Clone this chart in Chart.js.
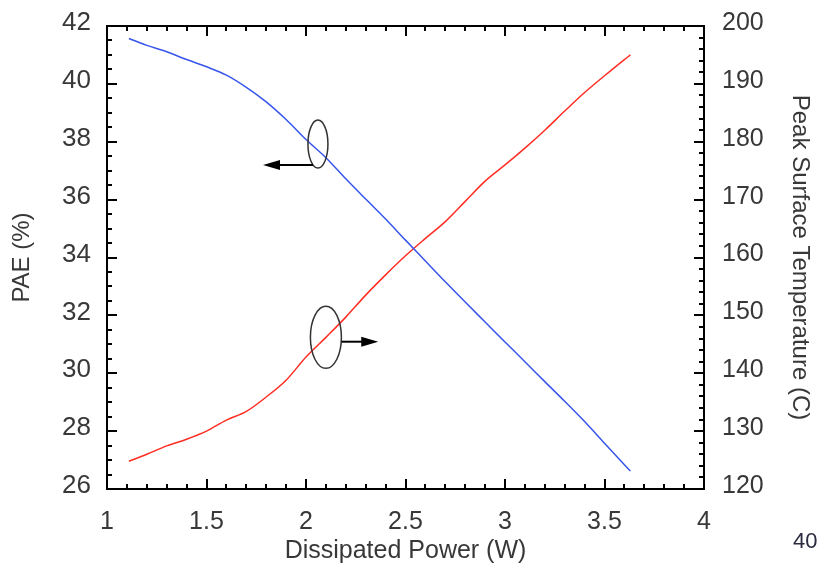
<!DOCTYPE html>
<html>
<head>
<meta charset="utf-8">
<title>PAE and peak surface temperature vs dissipated power</title>
<script src="https://cdn.jsdelivr.net/npm/chart.js@4.4.1/dist/chart.umd.min.js"></script>
<style>
  html, body { margin: 0; padding: 0; background: #fff; }
  #wrap { position: relative; width: 821px; height: 567px; }
  #pageNo {
    position: absolute; left: 793px; top: 530px;
    font: 22px "Liberation Sans", Arial, sans-serif; line-height: 22px;
    color: #2a2a40;
  }
</style>
</head>
<body>
<div id="wrap">
  <canvas id="chart" width="821" height="567"></canvas>
  <div id="pageNo">40</div>
</div>
<script>
// Dissipated power (W)
const power = [1.11, 1.2, 1.3, 1.4, 1.5, 1.6, 1.7, 1.8, 1.9, 2.0, 2.1, 2.2, 2.3, 2.4, 2.5,
               2.6, 2.7, 2.8, 2.9, 3.0, 3.1, 3.2, 3.3, 3.4, 3.5, 3.6, 3.63];
// PAE (%) - left axis
const pae = [41.57, 41.33, 41.11, 40.84, 40.59, 40.30, 39.88, 39.38, 38.77, 38.08, 37.45, 36.72, 36.02, 35.33, 34.60,
             33.88, 33.16, 32.46, 31.77, 31.08, 30.40, 29.71, 29.03, 28.33, 27.58, 26.84, 26.62];
// Peak surface temperature (C) - right axis
const surfaceTemp = [124.8, 126.0, 127.45, 128.6, 130.0, 131.9, 133.4, 135.9, 138.8, 142.8, 146.2, 149.7, 153.5, 157.0, 160.3,
                     163.3, 166.2, 169.7, 173.2, 176.0, 178.9, 182.0, 185.3, 188.5, 191.4, 194.2, 195.0];

const xRange = [1, 4];
const paeRange = [26, 42];
const tempRange = [120, 200];

// ellipse + arrow markers pointing each curve at its axis (data coords, pixel radii)
const markers = [
  { axis: 'yPae', cx: 2.06, cy: 37.92, rx: 10, ry: 24, ax: 2.035, ay: 37.20, tipX: 1.784 },
  { axis: 'yTemp', cx: 2.10, cy: 146.2, rx: 15.5, ry: 31, ax: 2.178, ay: 145.45, tipX: 2.363 }
];

const FONT = '"Liberation Sans", Arial, sans-serif';
const TEXT = '#383838';

const frameTicks = {
  id: 'frameTicks',
  afterDatasetsDraw(chart) {
    const { ctx, chartArea: a, scales } = chart;
    ctx.save();
    ctx.strokeStyle = '#000';
    ctx.lineWidth = 2;
    ctx.strokeRect(a.left, a.top, a.right - a.left, a.bottom - a.top);

    ctx.beginPath();
    // x: major every 0.5, minor every 0.1, bottom and top
    for (let i = 0; i <= 30; i++) {
      const px = Math.round(scales.x.getPixelForValue(1 + i / 10));
      const len = i % 5 === 0 ? 10 : 5;
      ctx.moveTo(px, a.bottom); ctx.lineTo(px, a.bottom - len);
      ctx.moveTo(px, a.top); ctx.lineTo(px, a.top + len);
    }
    // left: major every 2, minor every 0.5
    for (let i = 0; i <= 32; i++) {
      const py = Math.round(scales.yPae.getPixelForValue(26 + i * 0.5));
      const len = i % 4 === 0 ? 10 : 5;
      ctx.moveTo(a.left, py); ctx.lineTo(a.left + len, py);
    }
    // right: major every 10, minor every 2
    for (let i = 0; i <= 40; i++) {
      const py = Math.round(scales.yTemp.getPixelForValue(120 + i * 2));
      const len = i % 5 === 0 ? 10 : 5;
      ctx.moveTo(a.right, py); ctx.lineTo(a.right - len, py);
    }
    ctx.stroke();

    // markers
    markers.forEach(m => {
      const ys = scales[m.axis];
      const cx = scales.x.getPixelForValue(m.cx);
      const cy = ys.getPixelForValue(m.cy);
      const ax = scales.x.getPixelForValue(m.ax);
      const ay = ys.getPixelForValue(m.ay);
      const tx = scales.x.getPixelForValue(m.tipX);
      const dir = tx < ax ? -1 : 1;

      ctx.strokeStyle = '#333';
      ctx.lineWidth = 1.5;
      ctx.beginPath();
      ctx.ellipse(cx, cy, m.rx, m.ry, 0, 0, Math.PI * 2);
      ctx.stroke();

      ctx.strokeStyle = '#000';
      ctx.lineWidth = 2;
      ctx.beginPath();
      ctx.moveTo(ax, ay);
      ctx.lineTo(tx - dir * 12, ay);
      ctx.stroke();

      ctx.fillStyle = '#000';
      ctx.beginPath();
      ctx.moveTo(tx, ay);
      ctx.lineTo(tx - dir * 17, ay - 5);
      ctx.lineTo(tx - dir * 17, ay + 5);
      ctx.closePath();
      ctx.fill();
    });
    ctx.restore();
  }
};

// fixed axis sizes, no extra label padding around the plot
function fixHeight(h) {
  return s => { s.height = h; s.paddingLeft = 0; s.paddingRight = 0; };
}
function fixWidth(w) {
  return s => { s.width = w; s.paddingTop = 0; s.paddingBottom = 0; };
}

new Chart(document.getElementById('chart').getContext('2d'), {
  type: 'line',
  data: {
    datasets: [
      {
        label: 'PAE (%)',
        data: power.map((p, i) => ({ x: p, y: pae[i] })),
        yAxisID: 'yPae',
        borderColor: 'rgb(55, 85, 235)',
        borderWidth: 1.5,
        pointRadius: 0,
        cubicInterpolationMode: 'monotone'
      },
      {
        label: 'Peak Surface Temperature (C)',
        data: power.map((p, i) => ({ x: p, y: surfaceTemp[i] })),
        yAxisID: 'yTemp',
        borderColor: 'rgb(255, 45, 35)',
        borderWidth: 1.5,
        pointRadius: 0,
        cubicInterpolationMode: 'monotone'
      }
    ]
  },
  options: {
    responsive: false,
    animation: false,
    devicePixelRatio: 1,
    layout: { padding: { top: 26, left: 0, right: 0, bottom: 0 } },
    plugins: { legend: { display: false }, tooltip: { enabled: false } },
    scales: {
      x: {
        type: 'linear',
        min: xRange[0], max: xRange[1],
        grid: { display: false, drawTicks: false },
        border: { display: false },
        ticks: { stepSize: 0.5, padding: 18, color: TEXT, font: { family: FONT, size: 25 },
                 callback: v => String(v) },
        title: { display: true, text: 'Dissipated Power (W)', color: TEXT, padding: 1,
                 font: { family: FONT, size: 25 } },
        afterFit: fixHeight(78)
      },
      yPae: {
        type: 'linear',
        position: 'left',
        min: paeRange[0], max: paeRange[1],
        grid: { display: false, drawTicks: false },
        border: { display: false },
        ticks: { stepSize: 2, padding: 16, labelOffset: -3, color: TEXT, font: { family: FONT, size: 26 } },
        title: { display: true, text: 'PAE (%)', color: TEXT, padding: 8,
                 font: { family: FONT, size: 24 } },
        afterFit: fixWidth(107)
      },
      yTemp: {
        type: 'linear',
        position: 'right',
        min: tempRange[0], max: tempRange[1],
        grid: { display: false, drawTicks: false },
        border: { display: false },
        ticks: { stepSize: 10, padding: 18, labelOffset: -3, color: TEXT, font: { family: FONT, size: 25 } },
        title: { display: true, text: 'Peak Surface Temperature (C)', color: TEXT, padding: 7,
                 font: { family: FONT, size: 24 } },
        afterFit: fixWidth(117)
      }
    }
  },
  plugins: [frameTicks]
});
</script>
</body>
</html>
